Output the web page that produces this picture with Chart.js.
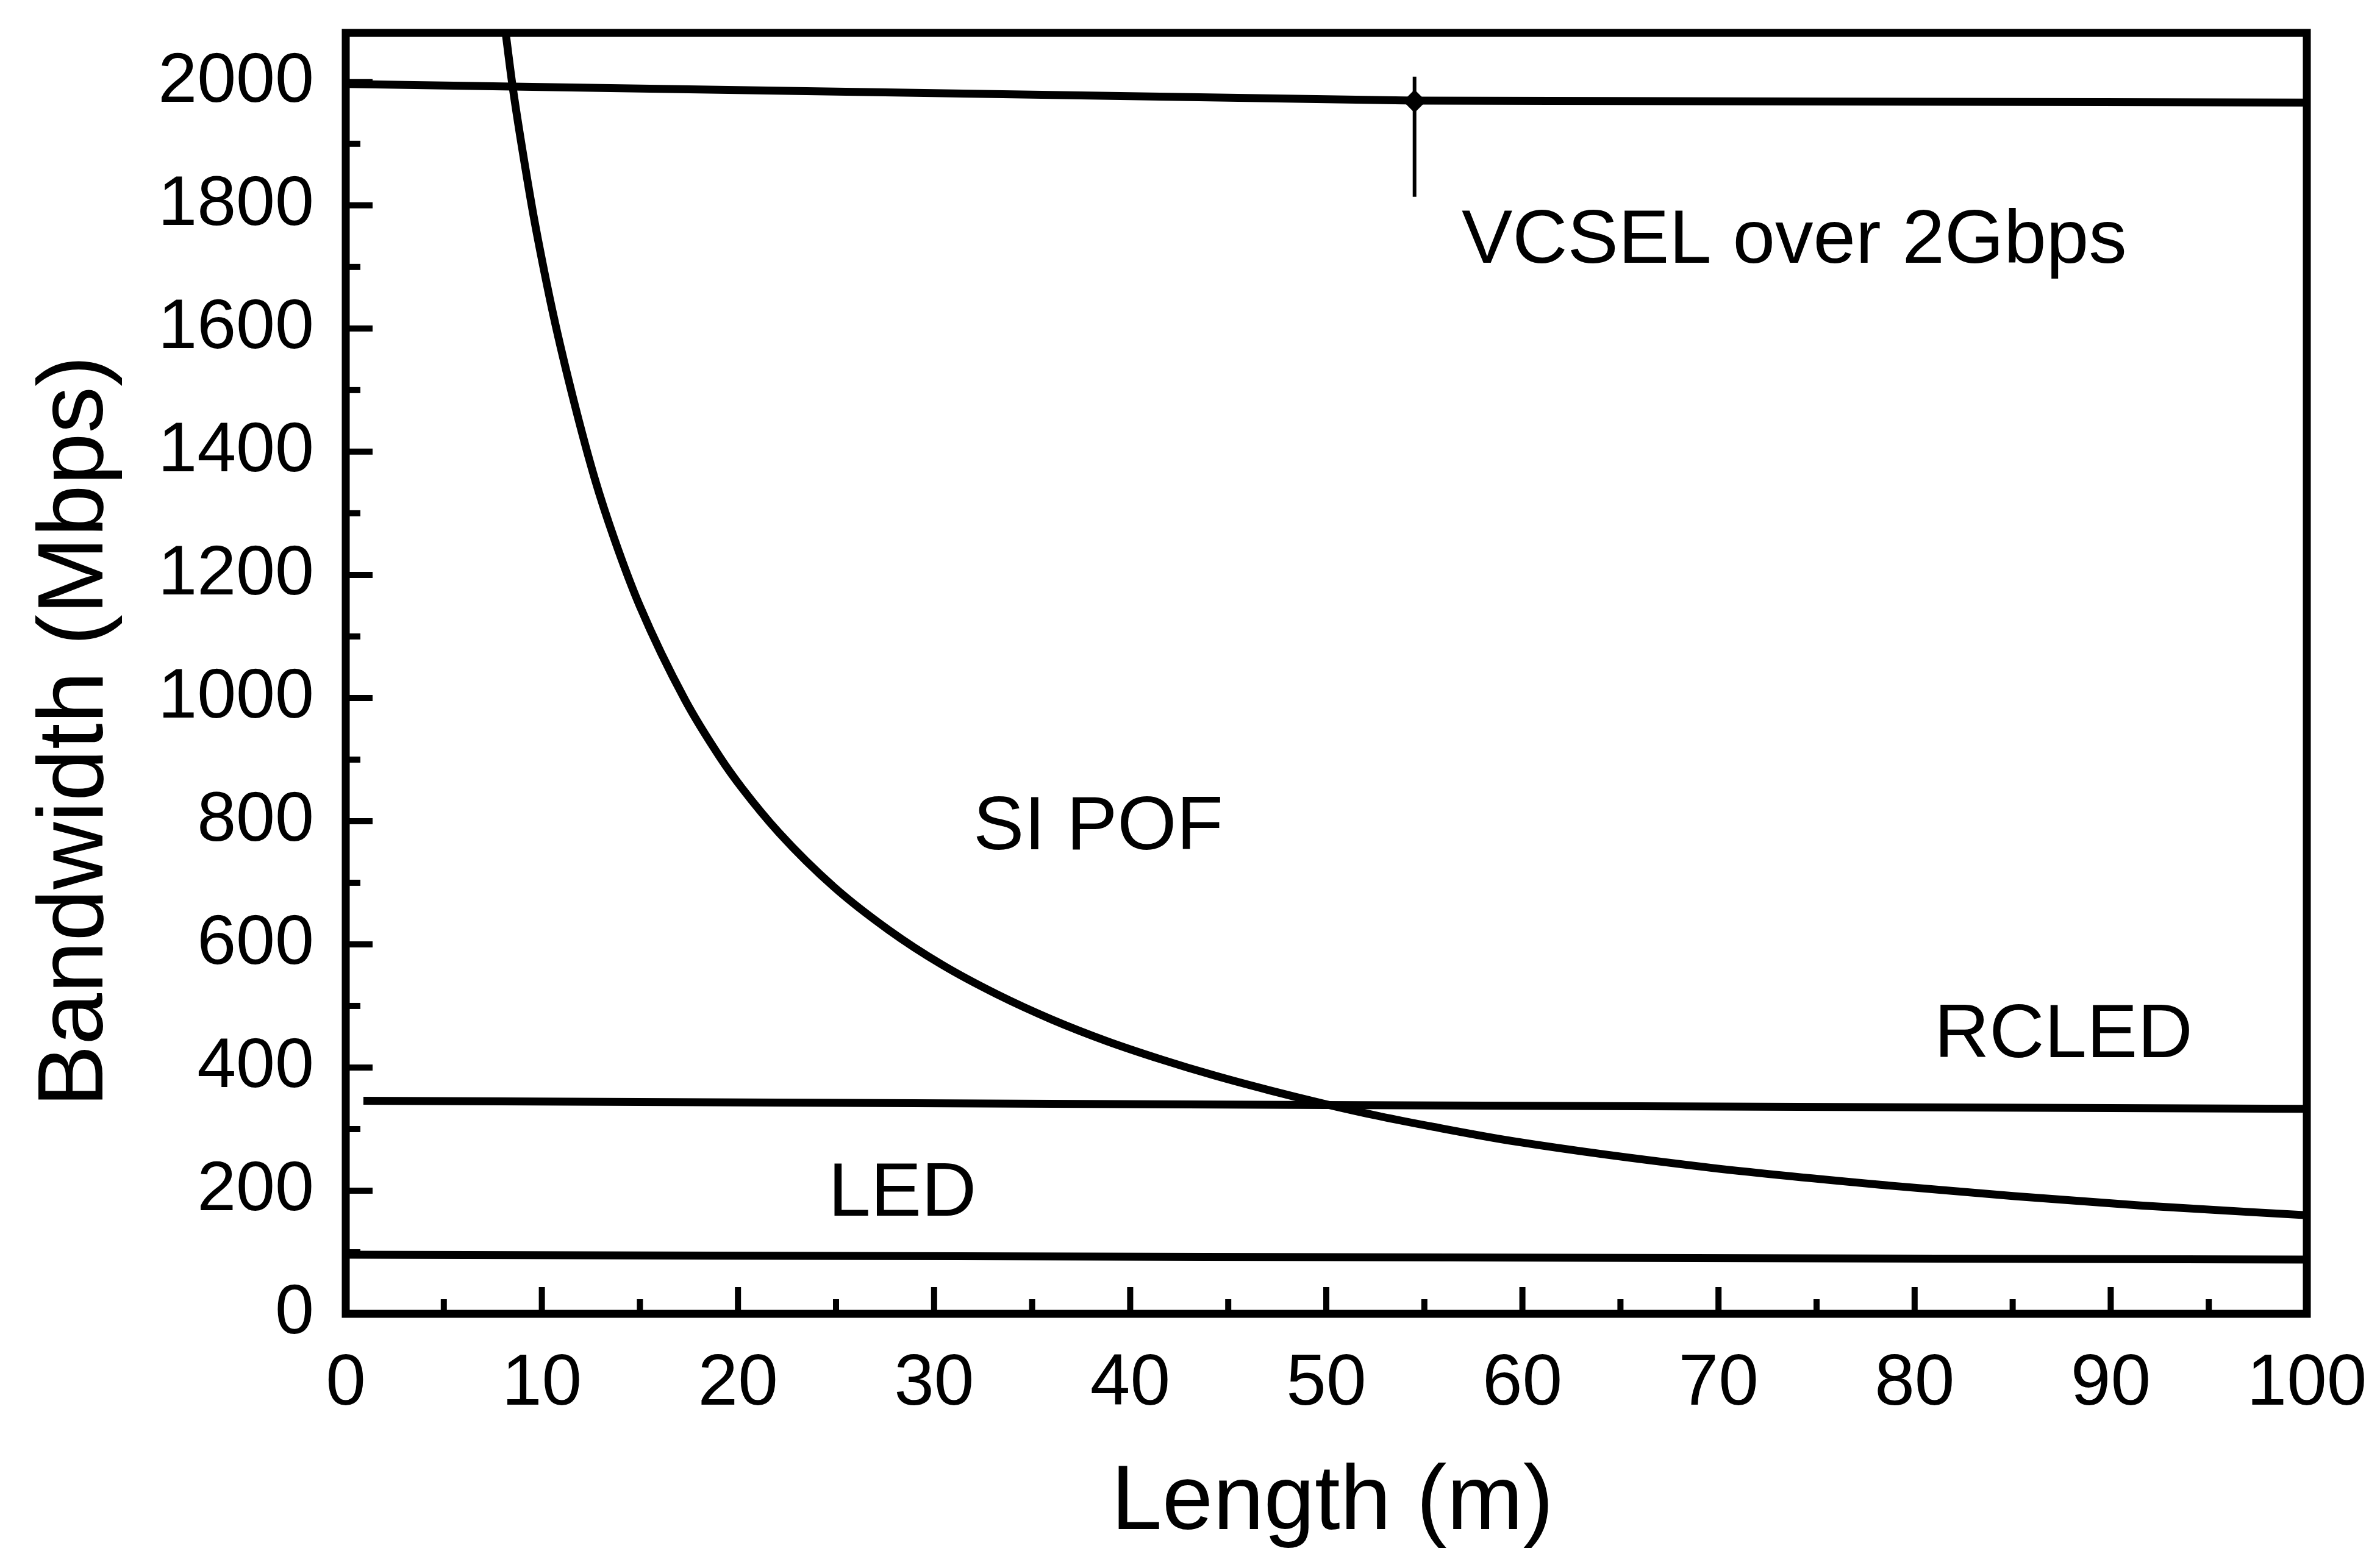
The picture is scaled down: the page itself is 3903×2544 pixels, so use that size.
<!DOCTYPE html>
<html>
<head>
<meta charset="utf-8">
<title>Bandwidth vs Length</title>
<script src="https://cdn.jsdelivr.net/npm/chart.js@4.4.1/dist/chart.umd.min.js"></script>
<style>
  html, body { margin: 0; padding: 0; background: #fff; }
  #wrap { width: 3903px; height: 2544px; }
</style>
</head>
<body>
<div id="wrap"><canvas id="chart" width="3903" height="2544"></canvas></div>
<script>
// tick values
const lengthTicks = [0, 10, 20, 30, 40, 50, 60, 70, 80, 90, 100];
const lengthMinorTicks = [5, 15, 25, 35, 45, 55, 65, 75, 85, 95];
const bandwidthTicks = [0, 200, 400, 600, 800, 1000, 1200, 1400, 1600, 1800, 2000];
const bandwidthMinorTicks = [100, 300, 500, 700, 900, 1100, 1300, 1500, 1700, 1900];

// SI POF curve (length m, bandwidth Mbps)
const siPofLength = [8.1, 8.5, 9.4, 9.8, 10.6, 11.6, 12.7, 13.7, 15.0, 17.3, 19.1, 20.2, 22.1, 24.9, 27.7, 30.4,
  33.2, 36.0, 38.8, 41.6, 44.3, 47.1, 49.9, 52.7, 55.4, 59.6, 69.4, 78.8, 85.1, 91.5, 100];
const siPofBandwidth = [2094, 1995, 1815, 1745, 1620, 1486, 1356, 1258, 1149, 997, 903, 854, 781, 693, 623, 567,
  519, 478, 443, 413, 387, 363, 341, 321, 304, 280, 238, 208, 191, 176, 160];

// source limits
const vcselLength = [0, 54.5, 100];
const vcselBandwidth = [1997, 1970, 1967];
const rcledLength = [0.9, 50, 100];
const rcledBandwidth = [346, 339, 333];
const ledLength = [0, 50, 100];
const ledBandwidth = [96, 92, 88];

// marker on the VCSEL line
const markerLength = [54.5, 54.5];
const markerBandwidth = [2009, 1814];
const markerDot = [54.5, 1969];

const labels = ['VCSEL over 2Gbps', 'SI POF', 'RCLED', 'LED'];

const FONT = '"Liberation Sans", Arial, Helvetica, sans-serif';
const pts = (xs, ys) => xs.map((x, i) => ({ x: x, y: ys[i] }));

// where each label sits (left edge, baseline) in data units
const labelAnchors = [
  { x: 56.9, y: 1707 },
  { x: 32.0, y: 754 },
  { x: 81.0, y: 417 },
  { x: 24.6, y: 159 }
];

const frameAndText = {
  id: 'frameAndText',
  afterDatasetsDraw(chart) {
    const { ctx, chartArea: a, scales: { x, y } } = chart;
    ctx.save();
    ctx.strokeStyle = '#000';
    ctx.fillStyle = '#000';
    ctx.lineCap = 'butt';

    // inward ticks
    ctx.lineWidth = 10;
    const vtick = (v, len) => {
      const px = x.getPixelForValue(v);
      ctx.beginPath(); ctx.moveTo(px, a.bottom); ctx.lineTo(px, a.bottom - len); ctx.stroke();
    };
    const htick = (v, len) => {
      const py = y.getPixelForValue(v);
      ctx.beginPath(); ctx.moveTo(a.left, py); ctx.lineTo(a.left + len, py); ctx.stroke();
    };
    lengthTicks.forEach(v => vtick(v, 44));
    lengthMinorTicks.forEach(v => vtick(v, 24));
    bandwidthTicks.forEach(v => htick(v, 44));
    bandwidthMinorTicks.forEach(v => htick(v, 24));

    // frame
    ctx.lineWidth = 13;
    ctx.strokeRect(a.left, a.top, a.right - a.left, a.bottom - a.top);

    // curve labels
    ctx.font = '125px ' + FONT;
    ctx.textAlign = 'left';
    ctx.textBaseline = 'alphabetic';
    labels.forEach((t, i) => {
      const p = labelAnchors[i];
      ctx.fillText(t, x.getPixelForValue(p.x), y.getPixelForValue(p.y));
    });

    // axis titles
    ctx.font = '150px ' + FONT;
    ctx.textAlign = 'center';
    ctx.fillText('Length (m)', (a.left + a.right) / 2 + 10, a.bottom + 353);
    ctx.translate(168, (a.top + a.bottom) / 2 + 95);
    ctx.rotate(-Math.PI / 2);
    ctx.font = '153px ' + FONT;
    ctx.fillText('Bandwidth (Mbps)', 0, 0);
    ctx.restore();
  }
};

const lineSet = (data, width) => ({
  data: data,
  borderColor: '#000',
  backgroundColor: '#000',
  borderWidth: width,
  pointRadius: 0,
  tension: 0,
  fill: false
});

const siPof = lineSet(pts(siPofLength, siPofBandwidth), 13);
siPof.cubicInterpolationMode = 'monotone';

const dot = lineSet([{ x: markerDot[0], y: markerDot[1] }], 0);
dot.pointRadius = 19;
dot.pointStyle = 'rectRot';
dot.showLine = false;

new Chart(document.getElementById('chart'), {
  type: 'line',
  data: {
    datasets: [
      siPof,
      lineSet(pts(vcselLength, vcselBandwidth), 13),
      lineSet(pts(rcledLength, rcledBandwidth), 13),
      lineSet(pts(ledLength, ledBandwidth), 13),
      lineSet(pts(markerLength, markerBandwidth), 6),
      dot
    ]
  },
  options: {
    responsive: false,
    animation: false,
    devicePixelRatio: 1,
    layout: { padding: { top: 54, right: 120, left: 0, bottom: 0 } },
    plugins: { legend: { display: false }, tooltip: { enabled: false } },
    scales: {
      x: {
        type: 'linear',
        min: 0,
        max: 100,
        grid: { display: false, drawTicks: false },
        border: { display: false },
        afterBuildTicks: s => { s.ticks = lengthTicks.map(v => ({ value: v })); },
        afterFit: s => { s.height = 389; s.paddingLeft = 0; s.paddingRight = 0; },
        ticks: {
          color: '#000',
          padding: 46,
          maxRotation: 0,
          font: { family: FONT, size: 118 },
          callback: v => String(v)
        }
      },
      y: {
        type: 'linear',
        min: 0,
        max: 2080,
        grid: { display: false, drawTicks: false },
        border: { display: false },
        afterBuildTicks: s => { s.ticks = bandwidthTicks.map(v => ({ value: v })); },
        afterFit: s => { s.width = 567; s.paddingTop = 0; s.paddingBottom = 0; },
        ticks: {
          color: '#000',
          padding: 52,
          font: { family: FONT, size: 115 },
          callback: v => String(v)
        }
      }
    }
  },
  plugins: [frameAndText]
});
</script>
</body>
</html>
